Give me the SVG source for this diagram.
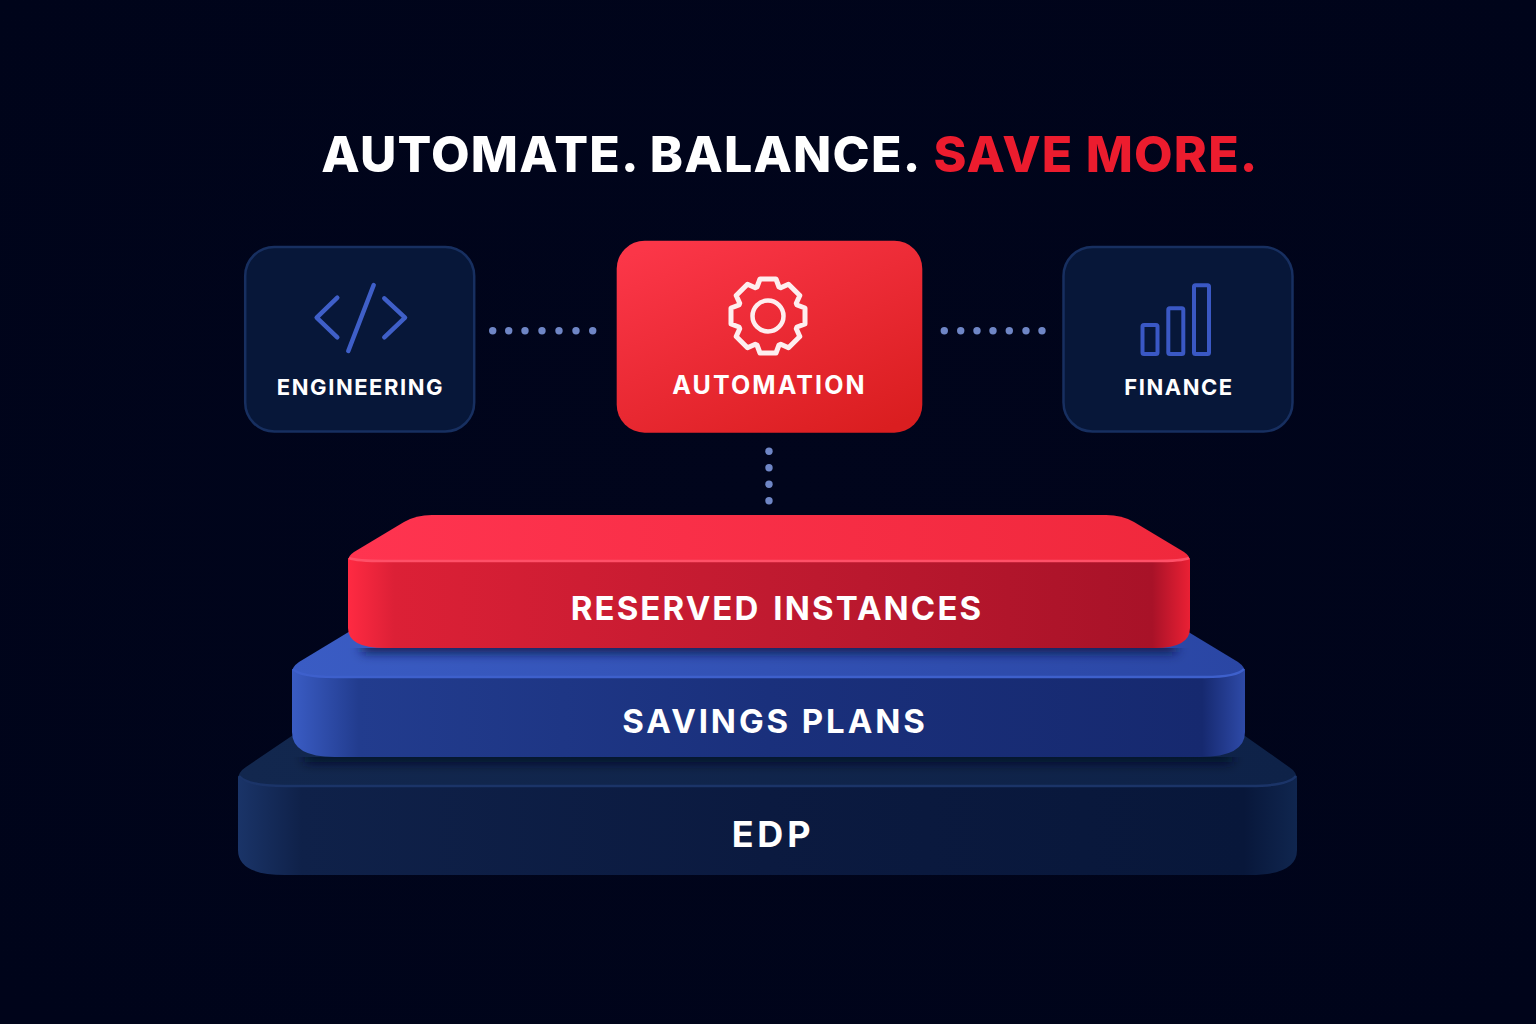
<svg xmlns="http://www.w3.org/2000/svg" width="1536" height="1024" viewBox="0 0 1536 1024">
<style>
text{font-family:"Inter","Liberation Sans",sans-serif;fill:#fff;text-anchor:middle}
.title{font-size:50px;font-weight:800;letter-spacing:1.2px}
.card{font-size:22px;font-weight:700;letter-spacing:1.55px}
.slab{font-size:33px;font-weight:700;letter-spacing:2.9px}
.dot{fill:#6f86c6}
.ico{fill:none;stroke:#3f5fc8;stroke-width:4.5;stroke-linecap:round;stroke-linejoin:round}
.side{fill:#071739;stroke:#172f60;stroke-width:2.5}
</style>
<defs>
<radialGradient id="bg" cx="50%" cy="48%" r="70%"><stop offset="0" stop-color="#01051c"/><stop offset="1" stop-color="#00041a"/></radialGradient>
<linearGradient id="red" x1="0.15" y1="0" x2="0.85" y2="1"><stop offset="0" stop-color="#fb3648"/><stop offset="1" stop-color="#da1e20"/></linearGradient>
<linearGradient id="rt" x1="0" x2="1" y1="0" y2="0"><stop offset="0" stop-color="#ff3450"/><stop offset="1" stop-color="#f0283c"/></linearGradient>
<linearGradient id="rf" x1="348" x2="1190" y1="0" y2="0" gradientUnits="userSpaceOnUse"><stop offset="0" stop-color="#ff2a42"/><stop offset=".055" stop-color="#dc2036"/><stop offset=".5" stop-color="#c01a30"/><stop offset=".955" stop-color="#a81228"/><stop offset="1" stop-color="#ea2034"/></linearGradient>
<linearGradient id="bt" x1="0" x2="1" y1="0" y2="0"><stop offset="0" stop-color="#3a5cc4"/><stop offset="1" stop-color="#2a46a4"/></linearGradient>
<linearGradient id="bf" x1="292" x2="1245" y1="0" y2="0" gradientUnits="userSpaceOnUse"><stop offset="0" stop-color="#3a5cc4"/><stop offset=".07" stop-color="#223c8e"/><stop offset=".5" stop-color="#1a307c"/><stop offset=".955" stop-color="#16296f"/><stop offset="1" stop-color="#2e4aa8"/></linearGradient>
<linearGradient id="et" x1="0" x2="1" y1="0" y2="0"><stop offset="0" stop-color="#12274e"/><stop offset="1" stop-color="#0e2248"/></linearGradient>
<linearGradient id="ef" x1="238" x2="1297" y1="0" y2="0" gradientUnits="userSpaceOnUse"><stop offset="0" stop-color="#1a3468"/><stop offset=".06" stop-color="#0f2149"/><stop offset=".5" stop-color="#0b1a40"/><stop offset=".95" stop-color="#08173a"/><stop offset="1" stop-color="#10264f"/></linearGradient>
<filter id="blur" x="-5%" y="-200%" width="110%" height="500%"><feGaussianBlur stdDeviation="6"/></filter>
<clipPath id="ebt"><path d="M238,757H1297V786H238Z"/></clipPath>
<clipPath id="bbt"><path d="M292,648H1245V677H292Z"/></clipPath>
</defs>
<rect width="1536" height="1024" fill="url(#bg)"/>
<g id="title"><text class="title" x="790" y="172">AUTOMATE. BALANCE. <tspan dx="2" style="fill:#ec1c2e">SAVE MORE.</tspan></text></g>
<g id="connectors">
<g class="dot"><circle cx="492.7" cy="330.7" r="3.7"/><circle cx="508.7" cy="330.7" r="3.7"/><circle cx="525" cy="330.7" r="3.7"/><circle cx="542" cy="330.7" r="3.7"/><circle cx="559" cy="330.7" r="3.7"/><circle cx="576" cy="330.7" r="3.7"/><circle cx="592.7" cy="330.7" r="3.7"/>
<circle cx="944.3" cy="330.7" r="3.7"/><circle cx="960.7" cy="330.7" r="3.7"/><circle cx="977" cy="330.7" r="3.7"/><circle cx="993" cy="330.7" r="3.7"/><circle cx="1009.3" cy="330.7" r="3.7"/><circle cx="1026" cy="330.7" r="3.7"/><circle cx="1042" cy="330.7" r="3.7"/>
<circle cx="769" cy="451.3" r="3.7"/><circle cx="769" cy="467.7" r="3.7"/><circle cx="769" cy="484.3" r="3.7"/><circle cx="769" cy="500.7" r="3.7"/></g>
</g>
<g id="engineering">
<rect class="side" x="245.2" y="247" width="229" height="184.500" rx="29"/>
<path class="ico" d="M337.300,297.700L316.700,317.700L337.300,337.300M384.300,298.300L405,317.700L384.300,337.300M373.700,285L348.300,351"/>
<text class="card" x="360.500" y="395">ENGINEERING</text>
</g>
<g id="automation">
<rect x="616.700" y="240.700" width="305.600" height="192" rx="28" fill="url(#red)"/>
<g transform="translate(768 316)">
<path fill="none" stroke="#fff" stroke-opacity=".92" stroke-width="5" stroke-linejoin="round" d="M-11,-29L-8,-37L8,-37L11,-29L12.720,-28.280L20.500,-31.820L31.820,-20.500L28.280,-12.720L29,-11L37,-8L37,8L29,11L28.280,12.720L31.820,20.500L20.500,31.820L12.720,28.280L11,29L8,37L-8,37L-11,29L-12.720,28.280L-20.500,31.820L-31.820,20.500L-28.280,12.720L-29,11L-37,8L-37,-8L-29,-11L-28.280,-12.720L-31.820,-20.500L-20.500,-31.820L-12.720,-28.280Z"/>
<circle r="15.500" fill="none" stroke="#fff" stroke-opacity=".92" stroke-width="4.500"/>
</g>
<text class="card" x="769.500" y="394" style="font-size:25px;letter-spacing:2.1px">AUTOMATION</text>
</g>
<g id="finance">
<rect class="side" x="1063.500" y="247" width="229" height="184.500" rx="29"/>
<g fill="none" stroke="#3a58c4" stroke-width="4" stroke-linejoin="round"><rect x="1142.500" y="325" width="15" height="29" rx="1.500"/><rect x="1168.300" y="308.300" width="15" height="45.700" rx="1.500"/><rect x="1194" y="285.300" width="15" height="68.700" rx="1.500"/></g>
<text class="card" x="1179" y="395">FINANCE</text>
</g>
<g id="edp">
<path d="M345,700H1194L1289,767Q1297,772 1297,780V790H238V780Q238,772 246,767Z" fill="url(#et)"/>
<path d="M238,776Q248,786 285,786H1250Q1288,786 1297,776V850Q1297,875 1250,875H285Q238,875 238,850Z" fill="url(#ef)"/>
<path d="M239,776Q248,786 285,786H1250Q1288,786 1296,776" fill="none" stroke="#1b3468" stroke-width="2.500"/>
<g clip-path="url(#ebt)"><rect x="305" y="750" width="927" height="12" fill="#010820" filter="url(#blur)"/></g>
<text class="slab" x="773" y="846.500" style="font-size:36px;letter-spacing:3.8px">EDP</text>
</g>
<g id="savings-plans">
<path d="M385,610H1152L1238,662Q1245,667 1245,672V680H292V672Q292,667 299,662Z" fill="url(#bt)"/>
<path d="M292,669Q300,677 335,677H1205Q1237,677 1245,669V732Q1245,757 1200,757H335Q292,757 292,732Z" fill="url(#bf)"/>
<path d="M293,669Q300,677 335,677H1205Q1237,677 1244,669" fill="none" stroke="#3e60cc" stroke-width="2.500"/>
<g clip-path="url(#bbt)"><rect x="362" y="641" width="814" height="11" fill="#0a1440" filter="url(#blur)"/></g>
<text class="slab" x="775" y="733">SAVINGS PLANS</text>
</g>
<g id="reserved-instances">
<path d="M432,515H1106Q1122,515 1134,522L1184,552Q1190,556 1190,561V570H348V561Q348,556 354,552L404,522Q416,515 432,515Z" fill="url(#rt)"/>
<path d="M348,558Q356,561 385,561H1155Q1182,561 1190,558V628Q1190,648 1155,648H385Q348,648 348,628Z" fill="url(#rf)"/>
<path d="M349,558Q356,561 385,561H1155Q1182,561 1189,558" fill="none" stroke="#ff5068" stroke-width="2.500"/>
<text class="slab" x="777" y="620" style="letter-spacing:2.1px;word-spacing:3px">RESERVED INSTANCES</text>
</g>
</svg>
